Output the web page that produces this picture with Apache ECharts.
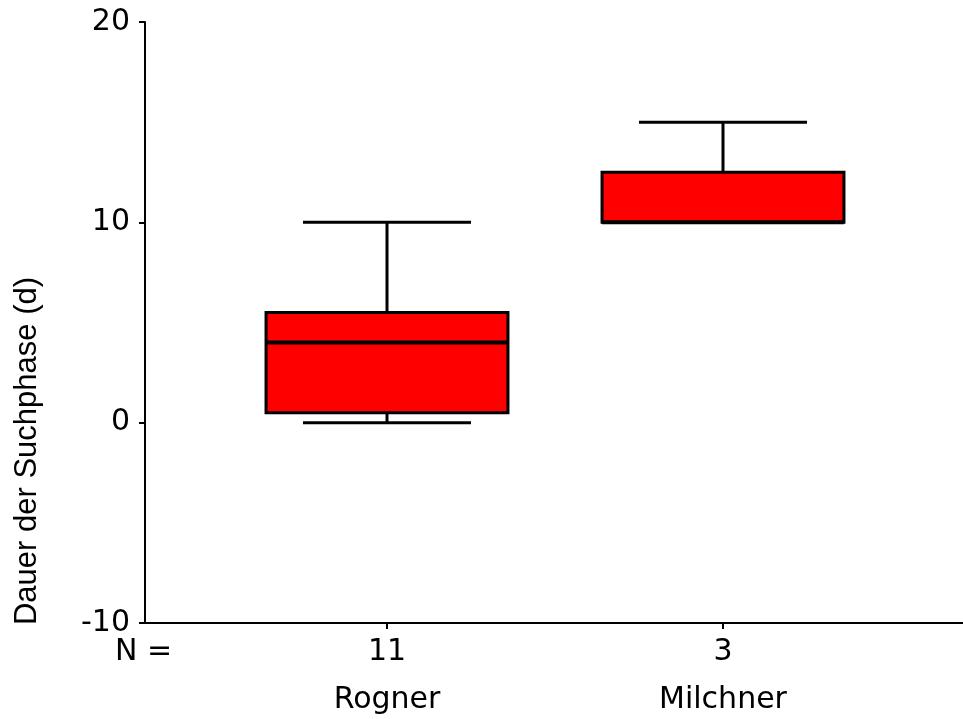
<!DOCTYPE html>
<html><head><meta charset="utf-8">
<script src="https://cdn.jsdelivr.net/npm/echarts@6/dist/echarts.min.js"></script>
<style>html,body{margin:0;padding:0;background:#fff}#c{width:963px;height:719px}</style>
</head><body><div id="c"></div>
<script>
const categories = ['Rogner', 'Milchner'];
const counts = [11, 3];
// [min, Q1, median, Q3, max]
const rognerBox = [0, 0.5, 4, 5.5, 10];
const milchnerBox = [10, 10, 10, 12.5, 15];
const boxValues = [rognerBox, milchnerBox];
const yMin = -10, yMax = 20, yInterval = 10;
const yTitle = 'Dauer der Suchphase (d)';
const nLabel = 'N =';

const font = 'DejaVu Sans';
const chart = echarts.init(document.getElementById('c'), null, {renderer: 'canvas'});
const option = {
  animation: false,
  backgroundColor: '#fff',
  grid: [
    {left: 145, right: 0, top: 22, bottom: 96},
    {left: 219, right: 72, top: 22, bottom: 96}
  ],
  xAxis: [
    {gridIndex: 0, type: 'value', min: 0, max: 1,
     axisLine: {show: true, onZero: false, lineStyle: {color: '#000', width: 2}},
     axisTick: {show: false}, axisLabel: {show: false}, splitLine: {show: false}},
    {gridIndex: 1, type: 'category', data: categories, boundaryGap: true,
     axisLine: {show: false, onZero: false},
     axisTick: {show: true, alignWithLabel: true, length: 6, lineStyle: {color: '#000', width: 2}},
     axisLabel: {margin: 11, interval: 0,
       formatter: (v, i) => '{n|' + counts[i] + '}\n{c|' + v + '}',
       rich: {
         n: {fontFamily: font, fontSize: 30, lineHeight: 36, color: '#000'},
         c: {fontFamily: font, fontSize: 30, lineHeight: 60, color: '#000'}
       }},
     splitLine: {show: false}}
  ],
  yAxis: [
    {gridIndex: 0, type: 'value', min: yMin, max: yMax, interval: yInterval,
     axisLine: {show: true, onZero: false, lineStyle: {color: '#000', width: 2}},
     axisTick: {show: true, length: 6, lineStyle: {color: '#000', width: 2}},
     axisLabel: {fontFamily: font, fontSize: 30, color: '#000', margin: 15},
     splitLine: {show: false}},
    {gridIndex: 1, type: 'value', min: yMin, max: yMax, interval: yInterval, show: false}
  ],
  graphic: [
    {type: 'text', x: 27, y: 451, rotation: Math.PI / 2,
     style: {text: yTitle, font: '31px "Liberation Sans", Arial, sans-serif', fill: '#000', align: 'center', verticalAlign: 'middle'}},
    {type: 'text', x: 115, y: 652,
     style: {text: nLabel, font: '30px "DejaVu Sans"', fill: '#000', align: 'left', verticalAlign: 'middle'}}
  ],
  series: [{
    type: 'custom',
    xAxisIndex: 1, yAxisIndex: 1,
    encode: {x: 0, y: [1, 2, 3, 4, 5]},
    data: boxValues.map((b, i) => [i].concat(b)),
    renderItem: function (params, api) {
      const x = api.value(0);
      const p = [1, 2, 3, 4, 5].map(k => api.coord([x, api.value(k)]));
      const band = api.size([1, 0])[0];
      const boxW = band * 0.72, capW = band * 0.5;
      const cx = p[0][0];
      const yMn = p[0][1], yQ1 = p[1][1], yMed = p[2][1], yQ3 = p[3][1], yMx = p[4][1];
      const ls = {stroke: '#000', lineWidth: 3};
      return {type: 'group', children: [
        {type: 'line', shape: {x1: cx, y1: yMx, x2: cx, y2: yQ3}, style: ls},
        {type: 'line', shape: {x1: cx, y1: yQ1, x2: cx, y2: yMn}, style: ls},
        {type: 'line', shape: {x1: cx - capW / 2, y1: yMx, x2: cx + capW / 2, y2: yMx}, style: ls},
        {type: 'line', shape: {x1: cx - capW / 2, y1: yMn, x2: cx + capW / 2, y2: yMn}, style: ls},
        {type: 'rect', shape: {x: cx - boxW / 2, y: yQ3, width: boxW, height: yQ1 - yQ3},
         style: {fill: '#ff0000', stroke: '#000', lineWidth: 3}},
        {type: 'line', shape: {x1: cx - boxW / 2, y1: yMed, x2: cx + boxW / 2, y2: yMed},
         style: {stroke: '#000', lineWidth: 4}}
      ]};
    }
  }]
};
chart.setOption(option);
</script>
</body></html>
